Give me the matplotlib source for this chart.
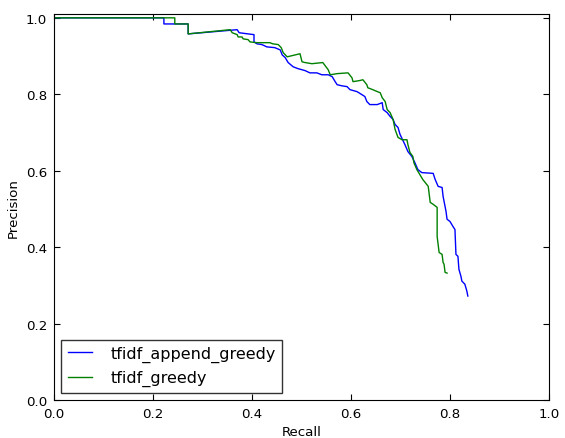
import matplotlib
matplotlib.use("Agg")
import matplotlib.pyplot as plt

# precision / recall points
recall_append = [0.000, 0.222, 0.222, 0.271, 0.271, 0.370, 0.374, 0.404, 0.404, 0.410,
                 0.420, 0.430, 0.446, 0.457, 0.461, 0.467, 0.473, 0.483, 0.493, 0.507,
                 0.517, 0.531, 0.541, 0.554, 0.562, 0.568, 0.572, 0.582, 0.592, 0.598,
                 0.612, 0.622, 0.628, 0.632, 0.638, 0.653, 0.663, 0.665, 0.673, 0.679,
                 0.685, 0.689, 0.695, 0.699, 0.709, 0.715, 0.723, 0.729, 0.735, 0.743,
                 0.766, 0.770, 0.776, 0.784, 0.786, 0.792, 0.794, 0.800, 0.806, 0.810,
                 0.812, 0.816, 0.818, 0.822, 0.824, 0.830, 0.834, 0.836]
precision_append = [1.000, 1.000, 0.984, 0.984, 0.958, 0.969, 0.961, 0.956, 0.937, 0.932,
                    0.930, 0.924, 0.922, 0.916, 0.903, 0.896, 0.883, 0.872, 0.867, 0.862,
                    0.856, 0.856, 0.851, 0.851, 0.846, 0.833, 0.825, 0.822, 0.820, 0.812,
                    0.807, 0.799, 0.794, 0.781, 0.773, 0.773, 0.778, 0.760, 0.752, 0.742,
                    0.734, 0.721, 0.713, 0.695, 0.668, 0.650, 0.637, 0.621, 0.603, 0.595,
                    0.593, 0.577, 0.559, 0.556, 0.533, 0.493, 0.473, 0.467, 0.454, 0.446,
                    0.381, 0.376, 0.342, 0.324, 0.311, 0.303, 0.285, 0.272]

recall_greedy = [0.000, 0.244, 0.244, 0.271, 0.271, 0.356, 0.360, 0.370, 0.372, 0.380,
                 0.382, 0.392, 0.396, 0.410, 0.436, 0.442, 0.453, 0.459, 0.463, 0.471,
                 0.497, 0.501, 0.507, 0.521, 0.543, 0.554, 0.558, 0.572, 0.594, 0.602,
                 0.604, 0.618, 0.624, 0.632, 0.634, 0.644, 0.653, 0.659, 0.663, 0.669,
                 0.673, 0.679, 0.685, 0.689, 0.695, 0.703, 0.713, 0.715, 0.719, 0.725,
                 0.727, 0.733, 0.739, 0.745, 0.756, 0.760, 0.766, 0.774, 0.774, 0.778,
                 0.784, 0.786, 0.788, 0.790, 0.794]
precision_greedy = [1.000, 1.000, 0.984, 0.984, 0.958, 0.969, 0.961, 0.956, 0.950, 0.950,
                    0.945, 0.943, 0.937, 0.935, 0.935, 0.932, 0.930, 0.922, 0.909, 0.898,
                    0.906, 0.885, 0.883, 0.880, 0.883, 0.864, 0.851, 0.854, 0.856, 0.843,
                    0.833, 0.836, 0.838, 0.825, 0.817, 0.812, 0.807, 0.804, 0.791, 0.781,
                    0.760, 0.752, 0.734, 0.708, 0.687, 0.681, 0.681, 0.668, 0.648, 0.637,
                    0.621, 0.603, 0.590, 0.577, 0.559, 0.517, 0.512, 0.504, 0.428, 0.386,
                    0.381, 0.360, 0.355, 0.334, 0.332]

fig = plt.figure(figsize=(5.65, 4.39), dpi=100)
ax = fig.add_axes([0.0956, 0.0866, 0.8761, 0.8792])

ax.plot(recall_append, precision_append, color="#0000ff", lw=1.0, label="tfidf_append_greedy")
ax.plot(recall_greedy, precision_greedy, color="#008000", lw=1.0, label="tfidf_greedy")

ax.set_xlim(0, 1)
ax.set_ylim(0, 1.01)
ax.set_xticks([0.0, 0.2, 0.4, 0.6, 0.8, 1.0])
ax.set_yticks([0.0, 0.2, 0.4, 0.6, 0.8, 1.0])
ax.tick_params(direction="in", top=True, right=True, labelsize=9.6, length=4, pad=5)
ax.set_xlabel("Recall", fontsize=9.6)
ax.set_ylabel("Precision", fontsize=9.6)

leg = ax.legend(loc="lower left", fontsize=11.5, handlelength=1.5, fancybox=False,
                borderaxespad=0.45, handletextpad=1.2)
leg.get_frame().set_edgecolor("black")
leg.get_frame().set_linewidth(1.0)

fig.savefig("out.png", dpi=100)
